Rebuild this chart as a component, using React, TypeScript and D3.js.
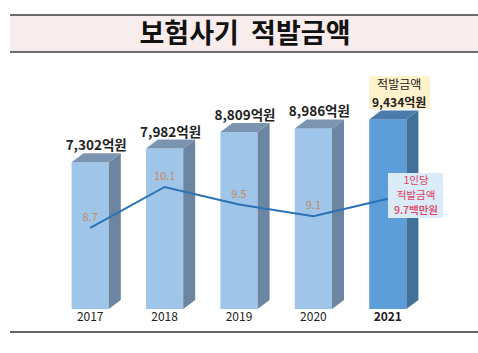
import { useEffect, useRef } from 'react'
import * as d3 from 'd3'

const years = ['2017', '2018', '2019', '2020', '2021']
const amounts = [7302, 7982, 8809, 8986, 9434]
const amountLabels = ['7,302억원', '7,982억원', '8,809억원', '8,986억원', '9,434억원']
const perPerson = [8.7, 10.1, 9.5, 9.1, 9.7]
const perPersonLabels = ['8.7', '10.1', '9.5', '9.1', '']
const title = '보험사기  적발금액'
const calloutTop = ['적발금액', '9,434억원']
const calloutLine = ['1인당', '적발금액', '9.7백만원']

const FONT = "'Noto Sans CJK KR', 'Noto Sans', sans-serif"

export default function App() {
  const svgRef = useRef<SVGSVGElement>(null)

  useEffect(() => {
    const svg = d3.select(svgRef.current)
    svg.selectAll('*').remove()

    const W = 478
    const depthX = 12, depthY = 9

    // title band
    svg.append('rect').attr('x', 10).attr('y', 15).attr('width', W - 10).attr('height', 37).attr('fill', '#f9ecec')
    svg.append('line').attr('x1', 10).attr('x2', W).attr('y1', 15).attr('y2', 15).attr('stroke', '#404040').attr('stroke-width', 1.5)
    svg.append('line').attr('x1', 10).attr('x2', W).attr('y1', 52).attr('y2', 52).attr('stroke', '#404040').attr('stroke-width', 1.5)
    svg.append('text').attr('x', 245).attr('y', 43).attr('text-anchor', 'middle')
      .attr('font-family', FONT).attr('font-weight', 700).attr('font-size', 27).attr('fill', '#111')
      .style('white-space', 'pre').text(title)

    // bottom rule
    svg.append('line').attr('x1', 10).attr('x2', W).attr('y1', 332).attr('y2', 332).attr('stroke', '#333').attr('stroke-width', 1.5)

    const x = d3.scaleBand().domain(years).range([53, 425]).paddingInner(0.5).paddingOuter(0.25)
    const bw = x.bandwidth()
    const y = d3.scaleLinear().domain([0, 10000]).range([309, 108])
    const yLine = d3.scaleLinear().domain([5, 11]).range([336.4, 160.6])

    const g = svg.append('g')
    years.forEach((yr, i) => {
      const x0 = x(yr)!
      const top = y(amounts[i])
      const bottom = y(0)
      const last = i === years.length - 1
      const front = last ? '#5e9ed8' : '#9fc5e9'
      const side = last ? '#41709b' : '#6c86a2'
      const topC = last ? '#4b7cab' : '#7b95b1'
      g.append('rect').attr('x', x0).attr('y', top).attr('width', bw).attr('height', bottom - top).attr('fill', front)
      g.append('path')
        .attr('d', `M${x0 + bw},${top} L${x0 + bw + depthX},${top - depthY} L${x0 + bw + depthX},${bottom - depthY} L${x0 + bw},${bottom} Z`)
        .attr('fill', side)
      g.append('path')
        .attr('d', `M${x0},${top} L${x0 + depthX},${top - depthY} L${x0 + bw + depthX},${top - depthY} L${x0 + bw},${top} Z`)
        .attr('fill', topC)

      g.append('text').attr('x', x0 + bw / 2).attr('y', 321).attr('text-anchor', 'middle')
        .attr('font-family', FONT).attr('font-size', 12).attr('font-weight', last ? 700 : 400)
        .attr('fill', '#222').text(yr)

      if (!last) {
        g.append('text').attr('x', x0 + (bw + depthX) / 2).attr('y', top - depthY - 3).attr('text-anchor', 'middle')
          .attr('font-family', FONT).attr('font-size', 13.5).attr('font-weight', 700)
          .attr('fill', '#222').text(amountLabels[i])
      }
    })

    // line
    const pts = years.map((yr, i) => [x(yr)! + bw / 2, yLine(perPerson[i])] as [number, number])
    svg.append('path').attr('d', d3.line()(pts)!).attr('fill', 'none').attr('stroke', '#2a72b5').attr('stroke-width', 2)

    pts.forEach((p, i) => {
      if (!perPersonLabels[i]) return
      svg.append('text').attr('x', p[0]).attr('y', p[1] - 7).attr('text-anchor', 'middle')
        .attr('font-family', FONT).attr('font-size', 11).attr('fill', '#c58a62').text(perPersonLabels[i])
    })

    // callout above 2021 bar
    const lx = x(years[4])!
    svg.append('rect').attr('x', lx).attr('y', 76).attr('width', 61).attr('height', 33).attr('fill', '#fff2cc')
    calloutTop.forEach((t, k) => {
      svg.append('text').attr('x', lx + 30).attr('y', 89 + k * 17.5).attr('text-anchor', 'middle')
        .attr('font-family', FONT).attr('font-size', 12).attr('font-weight', k === 1 ? 700 : 400)
        .attr('fill', '#222').text(t)
    })

    // per-person callout on 2021 line point
    svg.append('rect').attr('x', 388).attr('y', 173).attr('width', 55).attr('height', 45).attr('fill', '#dcebf8')
    calloutLine.forEach((t, k) => {
      svg.append('text').attr('x', 416).attr('y', 183.5 + k * 15.3).attr('text-anchor', 'middle')
        .attr('font-family', FONT).attr('font-size', 10.5).attr('font-weight', k === 2 ? 500 : 400)
        .attr('fill', '#e0405e').text(t)
    })
  }, [])

  return (
    <svg ref={svgRef} width={478} height={353}
      style={{ position: 'absolute', left: 0, top: 0, background: '#fff' }} />
  )
}
